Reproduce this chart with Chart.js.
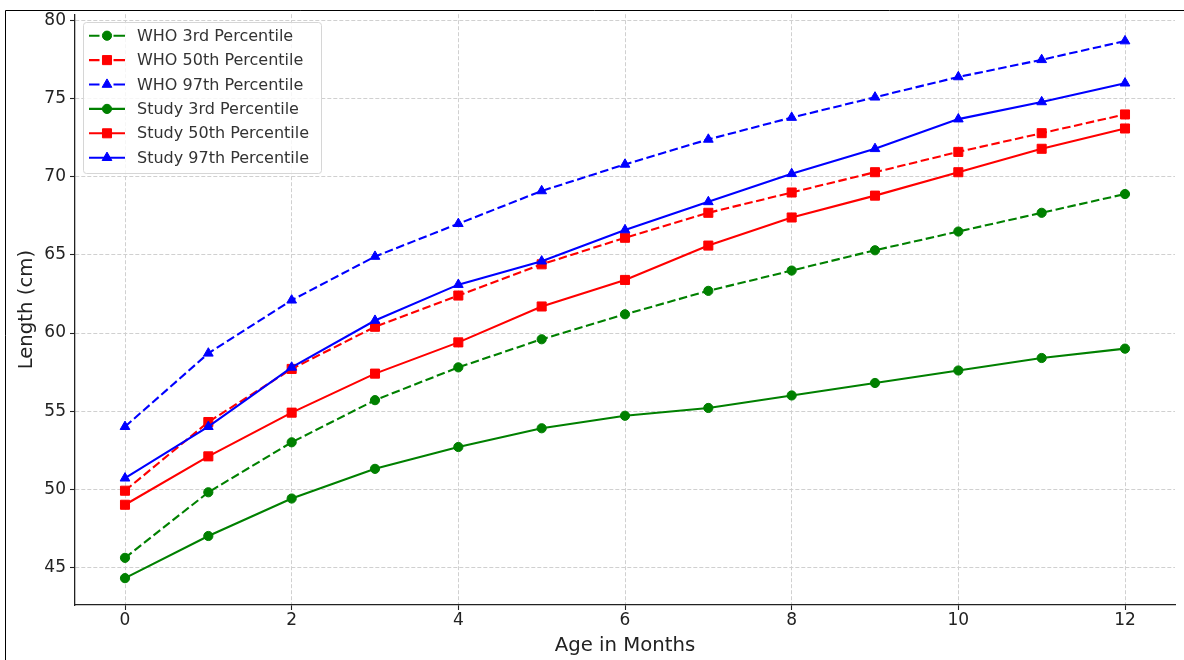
<!DOCTYPE html>
<html><head><meta charset="utf-8">
<script src="https://cdn.jsdelivr.net/npm/chart.js@4.4.1/dist/chart.umd.min.js"></script>
<style>html,body{margin:0;padding:0;background:#fff}#wrap{width:1184px;height:660px}</style>
</head><body><div id="wrap"><canvas id="c" width="1184" height="660"></canvas></div>
<script>
const months = [0,1,2,3,4,5,6,7,8,9,10,11,12];
const who3 = [45.6, 49.8, 53.0, 55.7, 57.8, 59.6, 61.2, 62.7, 64.0, 65.3, 66.5, 67.7, 68.9];
const who50 = [49.9, 54.3, 57.7, 60.4, 62.4, 64.4, 66.1, 67.7, 69.0, 70.3, 71.6, 72.8, 74.0];
const who97 = [54.0, 58.7, 62.1, 64.9, 67.0, 69.1, 70.8, 72.4, 73.8, 75.1, 76.4, 77.5, 78.7];
const study3 = [44.3, 47.0, 49.4, 51.3, 52.7, 53.9, 54.7, 55.2, 56.0, 56.8, 57.6, 58.4, 59.0];
const study50 = [49.0, 52.1, 54.9, 57.4, 59.4, 61.7, 63.4, 65.6, 67.4, 68.8, 70.3, 71.8, 73.1];
const study97 = [50.7, 54.0, 57.8, 60.8, 63.1, 64.6, 66.6, 68.4, 70.2, 71.8, 73.7, 74.8, 76.0];
const seriesLabels = ['WHO 3rd Percentile','WHO 50th Percentile','WHO 97th Percentile','Study 3rd Percentile','Study 50th Percentile','Study 97th Percentile'];
const xTicks = [0,2,4,6,8,10,12];
const yTicks = [45,50,55,60,65,70,75,80];
const xTitle = 'Age in Months';
const yTitle = 'Length (cm)';

const FONT = 'DejaVu Sans';
Chart.defaults.font.family = FONT;

const styles = [
  {color:'#008000', dashed:true, point:'circle', r:4.6},
  {color:'#ff0000', dashed:true, point:'rect', r:6.4},
  {color:'#0000ff', dashed:true, point:'triangle', r:5.6},
  {color:'#008000', dashed:false, point:'circle', r:4.6},
  {color:'#ff0000', dashed:false, point:'rect', r:6.4},
  {color:'#0000ff', dashed:false, point:'triangle', r:5.6}
];
const values = [who3, who50, who97, study3, study50, study97];

const datasets = values.map((vals, i) => {
  const s = styles[i];
  return {
    label: seriesLabels[i],
    data: months.map((m, k) => ({x: m, y: vals[k]})),
    borderColor: s.color, backgroundColor: s.color,
    borderWidth: 2.1,
    borderDash: s.dashed ? [8.5, 3.6] : [],
    pointStyle: s.point, pointRadius: s.r,
    pointBackgroundColor: s.color, pointBorderColor: s.color, pointBorderWidth: 1,
    tension: 0, fill: false,
    order: values.length - i
  };
});

function drawMarker(ctx, style, r, x, y, color) {
  ctx.save();
  ctx.fillStyle = color; ctx.strokeStyle = color; ctx.lineWidth = 1; ctx.setLineDash([]);
  ctx.beginPath();
  if (style === 'circle') {
    ctx.arc(x, y, r, 0, Math.PI * 2);
  } else if (style === 'rect') {
    const h = r * Math.SQRT1_2;
    ctx.rect(x - h, y - h, 2 * h, 2 * h);
  } else {
    for (let k = 0; k < 3; k++) {
      const a = k * 2 * Math.PI / 3;
      const px = x + Math.sin(a) * r, py = y - Math.cos(a) * r;
      if (k === 0) ctx.moveTo(px, py); else ctx.lineTo(px, py);
    }
    ctx.closePath();
  }
  ctx.fill(); ctx.stroke();
  ctx.restore();
}

const boxLegend = {
  id: 'boxLegend',
  afterDatasetsDraw(chart) {
    const ctx = chart.ctx;
    const x0 = 83.5, y0 = 22.5, w = 238, h = 151;
    ctx.save();
    ctx.beginPath();
    ctx.roundRect(x0, y0, w, h, 3);
    ctx.fillStyle = 'rgba(255,255,255,0.8)';
    ctx.fill();
    ctx.strokeStyle = '#d6d6d6'; ctx.lineWidth = 1; ctx.stroke();
    chart.data.datasets.forEach((ds, i) => {
      const s = styles[i];
      const y = 35.7 + i * 24.4;
      ctx.strokeStyle = s.color; ctx.lineWidth = 2.1; ctx.setLineDash([]);
      ctx.beginPath();
      if (s.dashed) {
        ctx.moveTo(89, y); ctx.lineTo(99.5, y);
        ctx.moveTo(113.5, y); ctx.lineTo(125, y);
      } else {
        ctx.moveTo(89, y); ctx.lineTo(125, y);
      }
      ctx.stroke();
      drawMarker(ctx, s.point, s.r, 107, y, s.color);
      ctx.fillStyle = '#333';
      ctx.font = '16px "' + FONT + '"';
      ctx.textBaseline = 'middle';
      ctx.textAlign = 'left';
      ctx.fillText(ds.label, 137, y + 1);
    });
    ctx.restore();
  }
};

const frame = {
  id: 'frame',
  beforeDraw(chart) {
    const ctx = chart.ctx;
    ctx.save(); ctx.fillStyle = '#fff'; ctx.fillRect(0, 0, chart.width, chart.height); ctx.restore();
  },
  afterDraw(chart) {
    const ctx = chart.ctx;
    ctx.save();
    ctx.strokeStyle = '#000'; ctx.lineWidth = 1;
    ctx.beginPath();
    ctx.moveTo(5.5, 660); ctx.lineTo(5.5, 10.5); ctx.lineTo(1184, 10.5);
    ctx.stroke();
    ctx.restore();
  }
};

const gridCommon = {
  color: '#d0d0d0', lineWidth: 1, drawTicks: true, tickLength: 5,
  tickColor: '#222', tickWidth: 1.1, tickBorderDash: []
};

new Chart(document.getElementById('c'), {
  type: 'line',
  data: {datasets},
  options: {
    responsive: false, animation: false, devicePixelRatio: 1,
    layout: {padding: {top: 13, right: 9, bottom: 0, left: 0}},
    plugins: {legend: {display: false}, tooltip: {enabled: false}},
    scales: {
      x: {
        type: 'linear', min: -0.6, max: 12.6,
        afterBuildTicks: s => { s.ticks = xTicks.map(v => ({value: v})); },
        afterFit: s => { s.height = 55; },
        ticks: {font: {size: 17}, color: '#222', padding: 0, maxRotation: 0, autoSkip: false, callback: v => String(v)},
        grid: gridCommon,
        border: {display: true, color: '#222', width: 1.3, dash: [4, 2]},
        title: {display: true, text: xTitle, color: '#222', font: {size: 19.7, lineHeight: 1}, padding: {top: 0, bottom: 4}}
      },
      y: {
        type: 'linear', min: 42.58, max: 80.42,
        afterBuildTicks: s => { s.ticks = yTicks.map(v => ({value: v})); },
        afterFit: s => { s.width = 75; },
        ticks: {font: {size: 17}, color: '#222', padding: 4, autoSkip: false, callback: v => String(v)},
        grid: gridCommon,
        border: {display: true, color: '#222', width: 1.3, dash: [4, 2]},
        title: {display: true, text: yTitle, color: '#222', font: {size: 19.7, lineHeight: 1}, padding: {top: 17, bottom: 0}}
      }
    }
  },
  plugins: [frame, boxLegend]
});
</script>
</body></html>
